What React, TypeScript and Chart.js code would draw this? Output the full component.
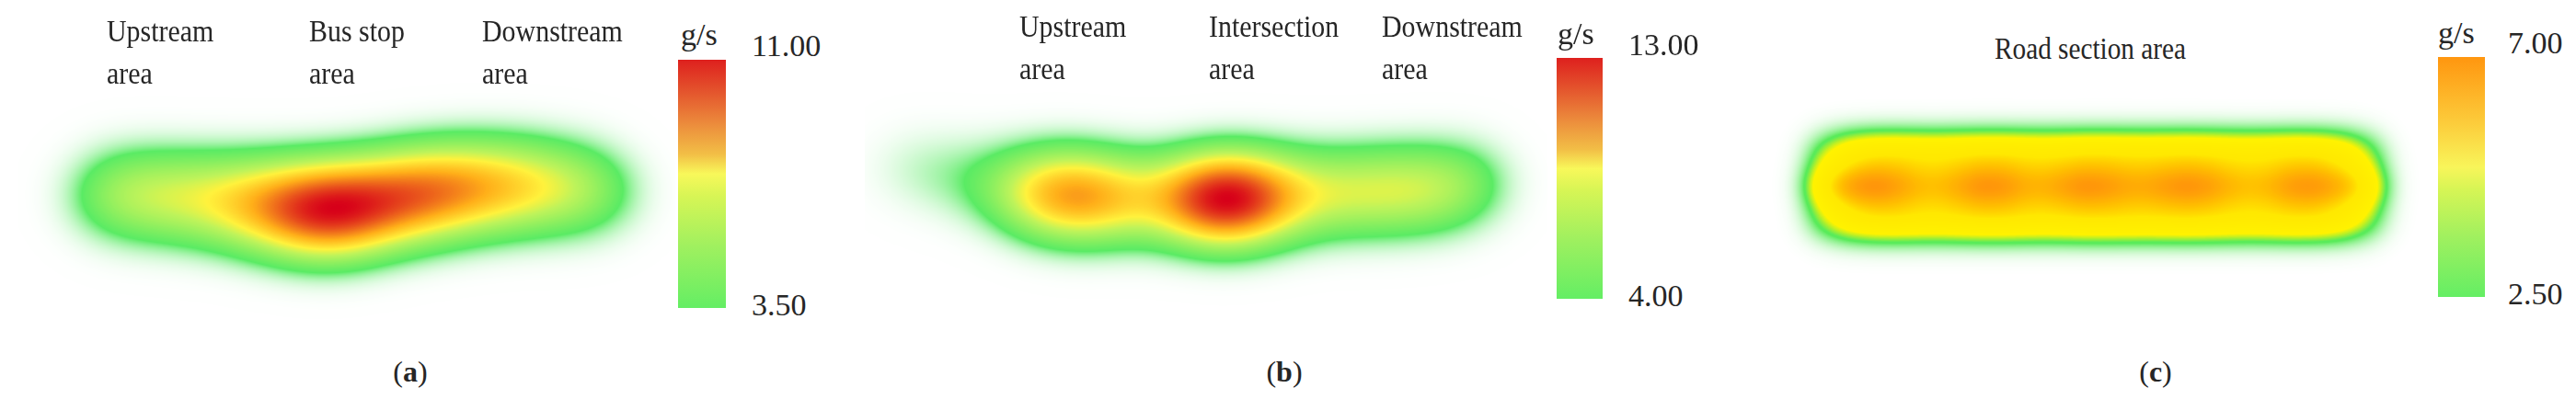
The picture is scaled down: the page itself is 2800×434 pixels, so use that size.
import React, { useEffect, useRef } from "react";
import { Chart, registerables } from "chart.js";

Chart.register(...registerables);

// ---------------- data ----------------
// (a) bus stop road segment: position along road (m), lateral position (m), emission rate (g/s)
const busStopPos = [12, 16, 20, 24, 28, 32, 36, 40, 44, 48, 52, 56, 60, 64, 68, 72, 76, 80, 84, 88, 92];
const busStopLat = [2.6, 2.6, 2.4, 2.3, 2.0, 1.6, 1.1, 0.7, 0.3, 0.1, 0.6, 1.4, 2.3, 2.9, 3.4, 3.7, 3.9, 3.9, 3.7, 3.4, 3.1];
const busStopRate = [3.6, 4.2, 4.3, 4.3, 4.6, 5.1, 6.0, 7.5, 9.5, 11.0, 10.0, 8.5, 8.4, 8.2, 7.4, 6.6, 6.0, 5.3, 4.6, 3.9, 3.4];

// (b) intersection road segment
const interPos = [4, 8, 12, 16, 20, 24, 28, 32, 36, 40, 44, 48, 52, 56, 60, 64, 68, 72, 76, 80, 84, 88, 92, 96];
const interLat = [6.9, 6.6, 6.0, 5.1, 4.0, 3.1, 2.7, 2.4, 2.3, 2.1, 2.0, 1.9, 1.9, 1.9, 2.0, 2.3, 2.6, 2.9, 3.0, 3.1, 3.3, 3.4, 3.7, 4.6];
const interRate = [1.1, 1.3, 1.5, 1.7, 2.1, 4.8, 7.4, 8.4, 7.8, 5.6, 4.0, 5.6, 10.5, 13.0, 10.5, 6.6, 4.6, 4.4, 4.6, 4.8, 4.8, 4.6, 4.2, 3.2];

// (c) plain road section: three lanes
const roadPos = [12, 16, 20, 24, 28, 32, 36, 40, 44, 48, 52, 56, 60, 64, 68, 72, 76, 80, 84, 88, 92, 96];
const roadLaneLat = [9.0, 3.9, -1.2];
const roadRateUpper = [2.0, 3.5, 4.0, 4.0, 3.8, 3.9, 4.1, 4.1, 3.9, 3.9, 4.1, 4.1, 4.0, 4.0, 4.1, 4.0, 3.8, 3.8, 4.0, 4.0, 3.5, 2.0];
const roadRateMiddle = [4.6, 5.7, 6.0, 5.3, 4.5, 5.0, 5.9, 5.7, 4.8, 5.2, 5.9, 5.6, 5.0, 5.4, 5.9, 5.5, 4.7, 4.6, 5.6, 5.8, 5.2, 4.4];
const roadRateLower = [2.0, 3.5, 4.0, 4.0, 3.8, 3.9, 4.1, 4.1, 3.9, 3.9, 4.1, 4.1, 4.0, 4.0, 4.1, 4.0, 3.8, 3.8, 4.0, 4.0, 3.5, 2.0];

// text
const busStopAreas = ["Upstream area", "Bus stop area", "Downstream area"];
const interAreas = ["Upstream area", "Intersection area", "Downstream area"];
const roadAreas = ["Road section area"];
const busStopTicks = ["11.00", "3.50"];
const interTicks = ["13.00", "4.00"];
const roadTicks = ["7.00", "2.50"];
const unitLabel = "g/s";
const captionLetters = ["a", "b", "c"];

// ---------------- styles ----------------
type RGB = [number, number, number];
type Stop = [number, RGB];

const hotStops: Stop[] = [
  [0, [90, 235, 100]],
  [0.2, [90, 235, 100]],
  [0.42, [190, 243, 90]],
  [0.52, [255, 242, 60]],
  [0.68, [255, 175, 25]],
  [0.85, [232, 80, 28]],
  [1, [215, 0, 25]],
];
const warmStops: Stop[] = [
  [0, [90, 235, 90]],
  [0.24, [90, 235, 90]],
  [0.34, [200, 240, 30]],
  [0.4, [255, 242, 0]],
  [0.72, [255, 232, 0]],
  [0.86, [255, 190, 0]],
  [1, [255, 150, 10]],
];

const barHot =
  "linear-gradient(to top, rgb(100,238,100) 0%, rgb(160,240,95) 25%, rgb(215,245,85) 45%, rgb(248,248,90) 54%, rgb(242,190,70) 62%, rgb(236,140,60) 74%, rgb(228,85,45) 87%, rgb(222,32,30) 100%)";
const barWarm =
  "linear-gradient(to top, rgb(100,238,100) 0%, rgb(160,240,95) 25%, rgb(215,245,85) 45%, rgb(248,245,90) 54%, rgb(252,205,60) 72%, rgb(255,150,15) 100%)";

const SERIF = "'Liberation Serif', 'Times New Roman', serif";
const INK = "#262626";

function buildLut(stops: Stop[]): Uint8ClampedArray {
  const lut = new Uint8ClampedArray(256 * 3);
  for (let i = 0; i < 256; i++) {
    const t = i / 255;
    let j = 0;
    while (j < stops.length - 2 && t > stops[j + 1][0]) j++;
    const [t0, c0] = stops[j];
    const [t1, c1] = stops[j + 1];
    const f = t1 > t0 ? Math.min(1, Math.max(0, (t - t0) / (t1 - t0))) : 0;
    for (let k = 0; k < 3; k++) lut[i * 3 + k] = c0[k] + (c1[k] - c0[k]) * f;
  }
  return lut;
}

const heatPlugin = {
  id: "heatLayer",
  afterDatasetsDraw(chart: any, _args: any, opts: any) {
    const { ctx, chartArea, scales } = chart;
    const xs = scales.x;
    const ys = scales.y;
    const left = Math.round(chartArea.left);
    const top = Math.round(chartArea.top);
    const w = Math.round(chartArea.right - chartArea.left);
    const h = Math.round(chartArea.bottom - chartArea.top);
    const sig = Math.abs(xs.getPixelForValue(opts.sigma) - xs.getPixelForValue(0));
    const k = 1 / (2 * sig * sig);
    const R = Math.ceil(sig * 3.6);
    const field = new Float32Array(w * h);
    for (const ds of chart.data.datasets) {
      for (const p of ds.data as any[]) {
        const cx = xs.getPixelForValue(p.x) - left;
        const cy = ys.getPixelForValue(p.y) - top;
        const x0 = Math.max(0, Math.floor(cx - R));
        const x1 = Math.min(w - 1, Math.ceil(cx + R));
        const y0 = Math.max(0, Math.floor(cy - R));
        const y1 = Math.min(h - 1, Math.ceil(cy + R));
        const ex = new Float32Array(x1 - x0 + 1);
        for (let x = x0; x <= x1; x++) {
          const d = x + 0.5 - cx;
          ex[x - x0] = Math.exp(-d * d * k);
        }
        for (let y = y0; y <= y1; y++) {
          const d = y + 0.5 - cy;
          const ey = p.v * Math.exp(-d * d * k);
          const row = y * w;
          for (let x = x0; x <= x1; x++) field[row + x] += ey * ex[x - x0];
        }
      }
    }
    let max = 0;
    for (let i = 0; i < field.length; i++) if (field[i] > max) max = field[i];
    if (max <= 0) return;
    const lut = buildLut(opts.stops);
    const img = ctx.createImageData(w, h);
    const data = img.data;
    const fade = opts.fade;
    for (let i = 0; i < field.length; i++) {
      const t = field[i] / max;
      if (t < 0.004) continue;
      const idx = Math.min(255, Math.round(t * 255));
      let a = Math.min(1, t / fade);
      a = Math.pow(a, opts.fadePow);
      data[i * 4] = lut[idx * 3];
      data[i * 4 + 1] = lut[idx * 3 + 1];
      data[i * 4 + 2] = lut[idx * 3 + 2];
      data[i * 4 + 3] = Math.round(a * 255);
    }
    ctx.putImageData(img, left, top);
  },
};

type Pt = { x: number; y: number; v: number };

function HeatPanel(props: {
  left: number;
  top: number;
  width: number;
  height: number;
  xMax: number;
  yMin: number;
  yMax: number;
  points: Pt[];
  sigma: number;
  stops: Stop[];
  fade: number;
  fadePow: number;
}) {
  const ref = useRef<HTMLCanvasElement | null>(null);
  useEffect(() => {
    if (!ref.current) return;
    const chart = new Chart(ref.current, {
      type: "scatter",
      data: { datasets: [{ data: props.points as any, pointRadius: 0, pointHoverRadius: 0 }] },
      options: {
        animation: false,
        responsive: false,
        maintainAspectRatio: false,
        devicePixelRatio: 1,
        layout: { padding: 0 },
        events: [],
        scales: {
          x: { type: "linear", min: 0, max: props.xMax, display: false },
          y: { type: "linear", min: props.yMin, max: props.yMax, display: false },
        },
        plugins: {
          legend: { display: false },
          tooltip: { enabled: false },
          heatLayer: { sigma: props.sigma, stops: props.stops, fade: props.fade, fadePow: props.fadePow },
        } as any,
      },
      plugins: [heatPlugin as any],
    });
    return () => chart.destroy();
  }, []);
  return (
    <canvas
      ref={ref}
      width={props.width}
      height={props.height}
      style={{ position: "absolute", left: props.left, top: props.top, width: props.width, height: props.height }}
    />
  );
}

function AreaLabel(props: { text: string; left: number; top: number }) {
  const cut = props.text.lastIndexOf(" ");
  return (
    <div
      style={{
        position: "absolute",
        left: props.left,
        top: props.top,
        fontFamily: SERIF,
        fontSize: 34,
        lineHeight: "46px",
        color: INK,
        whiteSpace: "nowrap",
        transform: "scaleX(0.88)",
        transformOrigin: "0 0",
      }}
    >
      {props.text.slice(0, cut)}
      <br />
      {props.text.slice(cut + 1)}
    </div>
  );
}

function TextAt(props: { text: string; left: number; top: number; size: number }) {
  return (
    <div
      style={{
        position: "absolute",
        left: props.left,
        top: props.top,
        fontFamily: SERIF,
        fontSize: props.size,
        lineHeight: "40px",
        color: INK,
        whiteSpace: "nowrap",
      }}
    >
      {props.text}
    </div>
  );
}

function ColorBar(props: {
  left: number;
  top: number;
  width: number;
  height: number;
  gradient: string;
  ticks: string[];
  tickLeft: number;
  tickTops: number[];
  unitLeft: number;
  unitTop: number;
}) {
  return (
    <>
      <div
        style={{
          position: "absolute",
          left: props.left,
          top: props.top,
          width: props.width,
          height: props.height,
          background: props.gradient,
        }}
      />
      <TextAt text={unitLabel} left={props.unitLeft} top={props.unitTop} size={34} />
      <TextAt text={props.ticks[0]} left={props.tickLeft} top={props.tickTops[0]} size={34} />
      <TextAt text={props.ticks[1]} left={props.tickLeft} top={props.tickTops[1]} size={34} />
    </>
  );
}

function Caption(props: { letter: string; cx: number }) {
  return (
    <div
      style={{
        position: "absolute",
        left: props.cx - 60,
        width: 120,
        top: 384,
        textAlign: "center",
        fontFamily: SERIF,
        fontSize: 32,
        lineHeight: "40px",
        color: INK,
      }}
    >
      (<b>{props.letter}</b>)
    </div>
  );
}

export default function App() {
  const busPts: Pt[] = busStopPos.map((x, i) => ({ x, y: busStopLat[i], v: busStopRate[i] }));
  const interPts: Pt[] = interPos.map((x, i) => ({ x, y: interLat[i], v: interRate[i] }));
  const roadPts: Pt[] = [];
  const roadRates = [roadRateUpper, roadRateMiddle, roadRateLower];
  roadLaneLat.forEach((lat, li) => {
    roadPos.forEach((x, i) => roadPts.push({ x, y: lat, v: roadRates[li][i] }));
  });

  return (
    <div
      style={{
        position: "absolute",
        left: 0,
        top: 0,
        width: 2800,
        height: 434,
        background: "#ffffff",
        overflow: "hidden",
      }}
    >
      {/* panel a */}
      <HeatPanel left={20} top={90} width={714} height={280} xMax={102} yMin={-20} yMax={20}
        points={busPts} sigma={5.6} stops={hotStops} fade={0.2} fadePow={2} />
      <AreaLabel text={busStopAreas[0]} left={116} top={11} />
      <AreaLabel text={busStopAreas[1]} left={336} top={11} />
      <AreaLabel text={busStopAreas[2]} left={524} top={11} />
      <ColorBar left={737} top={65} width={52} height={270} gradient={barHot} ticks={busStopTicks}
        tickLeft={817} tickTops={[30, 312]} unitLeft={740} unitTop={18} />
      <Caption letter={captionLetters[0]} cx={446} />

      {/* panel b */}
      <HeatPanel left={940} top={90} width={742} height={280} xMax={106} yMin={-20} yMax={20}
        points={interPts} sigma={5.4} stops={hotStops} fade={0.2} fadePow={2} />
      <AreaLabel text={interAreas[0]} left={1108} top={6} />
      <AreaLabel text={interAreas[1]} left={1314} top={6} />
      <AreaLabel text={interAreas[2]} left={1502} top={6} />
      <ColorBar left={1692} top={63} width={50} height={262} gradient={barHot} ticks={interTicks}
        tickLeft={1770} tickTops={[29, 302]} unitLeft={1693} unitTop={17} />
      <Caption letter={captionLetters[1]} cx={1396} />

      {/* panel c */}
      <HeatPanel left={1900} top={90} width={735} height={280} xMax={105} yMin={-20} yMax={20}
        points={roadPts} sigma={2.7} stops={warmStops} fade={0.22} fadePow={1.3} />
      <div
        style={{
          position: "absolute",
          left: 2072,
          width: 400,
          top: 30,
          textAlign: "center",
          fontFamily: SERIF,
          fontSize: 34,
          lineHeight: "46px",
          color: INK,
          whiteSpace: "nowrap",
          transform: "scaleX(0.86)",
          transformOrigin: "50% 0",
        }}
      >
        {roadAreas[0]}
      </div>
      <ColorBar left={2650} top={62} width={51} height={261} gradient={barWarm} ticks={roadTicks}
        tickLeft={2726} tickTops={[27, 300]} unitLeft={2650} unitTop={16} />
      <Caption letter={captionLetters[2]} cx={2343} />
    </div>
  );
}
